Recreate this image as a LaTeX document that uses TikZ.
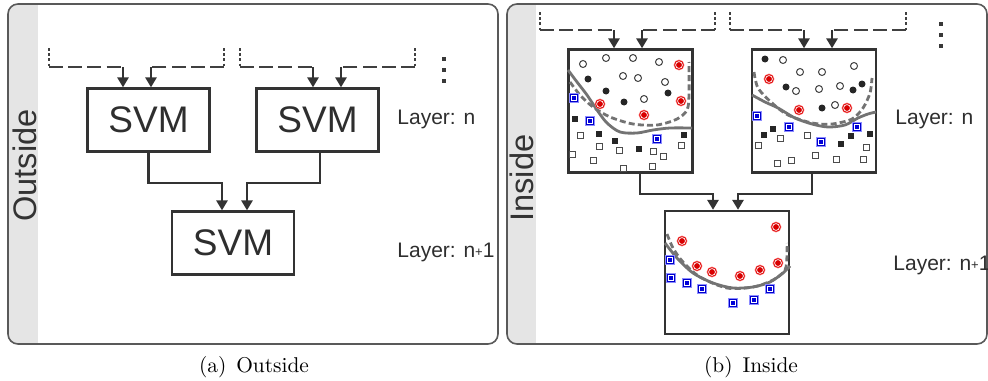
\documentclass[tikz,border=0pt]{standalone}
\usepackage{fontspec}
\newfontfamily\helv{Liberation Sans}
\usetikzlibrary{arrows.meta, calc}

\begin{document}
\begin{tikzpicture}[
    x=0.5pt, y=-0.5pt,
    >={Triangle[length=5pt, width=5.6pt]},
    panel/.style={draw=black!65, line width=0.8pt, rounded corners=5pt},
    strip/.style={fill=black!10},
    svmbox/.style={draw=black!80, line width=1.2pt, minimum width=61pt, minimum height=31.5pt, inner sep=0pt, text=black!82, font=\helv\fontsize{18.5}{18.5}\selectfont},
    plotbox/.style={draw=black!80, line width=1.2pt, minimum width=62pt, minimum height=61.5pt, inner sep=0pt},
    side/.style={rotate=90, anchor=base west, inner sep=0pt, text=black!80, font=\helv\fontsize{16.3}{16.3}\selectfont},
    layer/.style={anchor=base west, inner sep=0pt, text=black!82, font=\helv\fontsize{10.5}{10.5}\selectfont},
    caption/.style={anchor=base, inner sep=0pt, font=\fontsize{10.7}{12}\selectfont},
    arrow/.style={->, line width=1.15pt, black!80},
    feed/.style={line width=1pt, black!75, dash pattern=on 7pt off 2.6pt},
    tick/.style={line width=1pt, black!75, dash pattern=on 1.3pt off 1.3pt},
    bound/.style={line width=1.4pt, black!55},
    bounddash/.style={bound, dash pattern=on 3pt off 1.6pt},
    opendot/.pic={\draw[black!75, fill=white, line width=0.5pt] (0,0) circle[radius=1.75pt];},
    fulldot/.pic={\fill[black!85] (0,0) circle[radius=1.75pt];},
    reddot/.pic={\fill[red!55] (0,0) circle[radius=2.7pt];
                 \fill[red!85!black] (0,0) circle[radius=2.35pt];
                 \fill[white] (0,0) circle[radius=1.9pt];
                 \fill[red!85!black] (0,0) circle[radius=1.45pt];},
    bluesq/.pic={\fill[blue!45] (-2.5pt,-2.5pt) rectangle (2.5pt,2.5pt);
                 \fill[blue!80!black] (-2.1pt,-2.1pt) rectangle (2.1pt,2.1pt);
                 \fill[white] (-1.6pt,-1.6pt) rectangle (1.6pt,1.6pt);
                 \fill[blue!85!black] (-1.15pt,-1.15pt) rectangle (1.15pt,1.15pt);},
    opensq/.pic={\draw[black!70, fill=white, line width=0.5pt] (-1.5pt,-1.5pt) rectangle (1.5pt,1.5pt);},
    fullsq/.pic={\fill[black!85] (-1.65pt,-1.65pt) rectangle (1.65pt,1.65pt);},
    vdot/.pic={\fill[black!78] (-1pt,-1pt) rectangle (1pt,1pt);}
  ]
    \useasboundingbox (0,0) rectangle (988,380);

    % panels with grey side strips
    \begin{scope}
      \clip[rounded corners=5pt] (8,4) rectangle (498,344);
      \fill[strip] (8,4) rectangle (38,344);
    \end{scope}
    \begin{scope}
      \clip[rounded corners=5pt] (507,4) rectangle (987,344);
      \fill[strip] (507,4) rectangle (536,344);
    \end{scope}
    \draw[panel] (8,4) rectangle (498,344);
    \draw[panel] (507,4) rectangle (987,344);
    \node[side] (outlbl) at (36.5,222) {Outside};
    \node[side] (inlbl) at (533,222) {Inside};

    % (a) outside
    \node[svmbox] (svmA) at (148.5,120) {SVM};
    \node[svmbox] (svmB) at (317.5,120) {SVM};
    \node[svmbox] (svmC) at (233,243) {SVM};
    \node[layer] (layA) at (397,124) {Layer: n};
    \node[layer] (layA1) at (397,257) {Layer: n\raisebox{0.5pt}{\fontsize{6.5}{6.5}\selectfont+}1};

    % (b) inside
    \node[plotbox] (plotA) at (630.5,111) {};
    \node[plotbox] (plotB) at (814,111) {};
    \node[plotbox] (plotC) at (727,272.5) {};
    \node[layer] (layB) at (895,124) {Layer: n};
    \node[layer] (layB1) at (893,270) {Layer: n\raisebox{0.5pt}{\fontsize{6.5}{6.5}\selectfont+}1};

    % incoming brackets
    \foreach \xl/\xa/\xb/\xr/\yt/\yl/\target in {49/123/151/224/48/67/svmA, 240/313/341/415/48/67/svmB,
        540/614/642/715/12/30/plotA, 730/804/832/906/12/30/plotB} {
      \coordinate (fl) at (\xl,\yl);
      \coordinate (fr) at (\xr,\yl);
      \coordinate (fa) at (\xa,\yl);
      \coordinate (fb) at (\xb,\yl);
      \draw[tick] (\xl,\yt) -- (fl);
      \draw[tick] (\xr,\yt) -- (fr);
      \draw[feed] (fl) -- (fa);
      \draw[feed] (fr) -- (fb);
      \draw[arrow] (fa) -- (fa |- \target.north);
      \draw[arrow] (fb) -- (fb |- \target.north);
    }
    \foreach \y in {59,70,81} \pic at (444,\y) {vdot};
    \foreach \y in {24,35,46} \pic at (941,\y) {vdot};

    % layer to layer
    \draw[arrow] (svmA.south) -- ++(0,30) -| ($(svmC.north)+(-11,0)$);
    \draw[arrow] ($(svmB.south)+(2.5,0)$) -- ++(0,30) -| ($(svmC.north)+(14,0)$);
    \draw[arrow] ($(plotA.south)+(9.5,0)$) -- ++(0,20) -| ($(plotC.north)+(-14,0)$);
    \draw[arrow] ($(plotB.south)+(-2,0)$) -- ++(0,20) -| ($(plotC.north)+(11,0)$);

    % decision boundaries
    \draw[bound] plot[smooth] coordinates {(568,70) (577,82) (587,95) (597,110) (607,123) (620,132) (637,133) (653,130) (670,128) (692,128)};
    \draw[bounddash] plot[smooth] coordinates {(570,82) (580,95) (593,107) (610,117) (633,124) (657,125) (677,119) (687,110) (689,95) (689,62)};
    \draw[bound] plot[smooth] coordinates {(752,95) (765,102) (778,108) (795,118) (812,124) (828,127) (845,125) (858,118) (868,114) (876,112)};
    \draw[bounddash] plot[smooth] coordinates {(754,72) (758,88) (772,103) (788,115) (812,123) (832,124) (852,119) (863,108) (870,93) (872,78)};
    \draw[bound] plot[smooth] coordinates {(665,243) (677,258) (693,273) (713,283) (733,288) (753,287) (770,282) (783,273) (790,266)};
    \draw[bounddash] plot[smooth] coordinates {(667,234) (673,248) (683,262) (700,277) (727,288) (753,287) (773,280) (785,270) (787,255) (787,243)};

    % samples, layer n
    \foreach \x/\y in {583/64, 606/58, 633/58, 659/62, 623/76, 638/78, 665/82, 644/99,
        783/60, 800/72, 822/72, 854/66, 796/91, 819/89, 840/86, 835/105}
      \pic at (\x,\y) {opendot};
    \foreach \x/\y in {588/79, 606/91, 624/102, 668/93,
        765/59, 786/87, 853/90, 862/84, 822/108}
      \pic at (\x,\y) {fulldot};
    \foreach \x/\y in {580/135, 599/146, 619/150, 572/154, 593/160, 653/151, 663/156, 681/145, 623/168, 652/166,
        780/138, 807/135, 758/145, 866/147, 815/155, 836/159, 863/159, 791/160, 777/163}
      \pic at (\x,\y) {opensq};
    \foreach \x/\y in {575/119, 599/134, 615/141, 639/149, 684/135,
        773/129, 764/135, 851/136, 870/134, 841/144}
      \pic at (\x,\y) {fullsq};
    % samples, both layers
    \foreach \x/\y in {679/65, 600/104, 681/101, 644/115,
        769/79, 799/110, 847/108,
        682/241, 776/227, 697/266, 712/272, 740/276, 760/270, 778/263}
      \pic at (\x,\y) {reddot};
    \foreach \x/\y in {574/98, 590/121, 657/139,
        757/116, 789/127, 821/142, 857/127,
        670/260, 671/278, 687/283, 702/289, 733/303, 754/300, 770/289}
      \pic at (\x,\y) {bluesq};

    % captions
    \node[caption] (capA) at (254,372) {(a)\hskip5pt Outside};
    \node[caption] (capB) at (751,372) {(b)\hskip5pt Inside};
  \end{tikzpicture}
\end{document}
